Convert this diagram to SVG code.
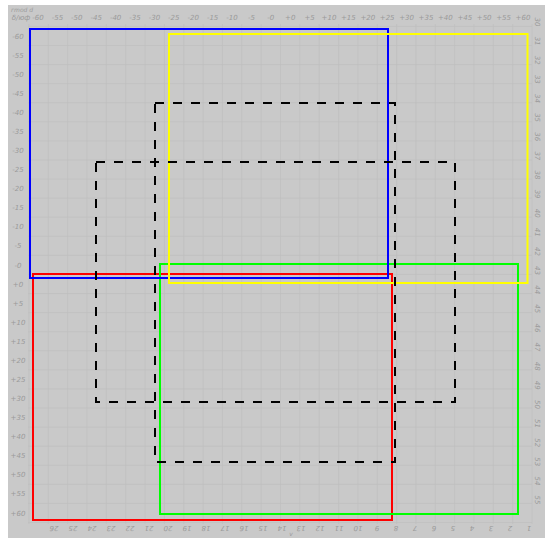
<svg xmlns="http://www.w3.org/2000/svg" width="545" height="538" viewBox="0 0 545 538">
<style>
.lbl{font-family:"DejaVu Sans",sans-serif;font-style:italic;font-size:7px;fill:#9a9a9a;text-anchor:middle}
.grid{stroke:#bfbfbf;stroke-width:0.7;fill:none}
.box{fill:none;stroke-width:2}
.dash{fill:none;stroke:#000;stroke-width:2;stroke-dasharray:9 9}
</style>
<rect x="0" y="0" width="545" height="538" fill="#ffffff"/>
<rect x="8" y="5" width="537" height="533" fill="#c9c9c9"/>
<g id="grid">
<path class="grid" d="M28.95 24V524M48.3 24V524M67.65 24V524M87 24V524M106.35 24V524M125.7 24V524M145.05 24V524M164.4 24V524M183.75 24V524M203.1 24V524M222.45 24V524M241.8 24V524M261.15 24V524M280.5 24V524M299.85 24V524M319.2 24V524M338.55 24V524M357.9 24V524M377.25 24V524M396.6 24V524M415.95 24V524M435.3 24V524M454.65 24V524M474 24V524M493.35 24V524M512.7 24V524M532.05 24V524"/>
<path class="grid" d="M28 26.42H532M28 45.5H532M28 64.58H532M28 83.66H532M28 102.74H532M28 121.82H532M28 140.9H532M28 159.98H532M28 179.06H532M28 198.14H532M28 217.22H532M28 236.3H532M28 255.38H532M28 274.46H532M28 293.54H532M28 312.62H532M28 331.7H532M28 350.78H532M28 369.86H532M28 388.94H532M28 408.02H532M28 427.1H532M28 446.18H532M28 465.26H532M28 484.34H532M28 503.42H532M28 522.5H532"/>
</g>
<g id="labels-top">
<text class="lbl" x="22" y="12" style="font-size:6px">гmod d</text>
<text class="lbl" x="21" y="19.5">δ/юф</text>
<text class="lbl" x="38" y="19.5">-60</text><text class="lbl" x="57.4" y="19.5">-55</text><text class="lbl" x="76.8" y="19.5">-50</text><text class="lbl" x="96.2" y="19.5">-45</text><text class="lbl" x="115.6" y="19.5">-40</text><text class="lbl" x="135" y="19.5">-35</text><text class="lbl" x="154.4" y="19.5">-30</text><text class="lbl" x="173.8" y="19.5">-25</text><text class="lbl" x="193.2" y="19.5">-20</text><text class="lbl" x="212.6" y="19.5">-15</text><text class="lbl" x="232" y="19.5">-10</text><text class="lbl" x="251.4" y="19.5">-5</text><text class="lbl" x="270.8" y="19.5">-0</text><text class="lbl" x="290.2" y="19.5">+0</text><text class="lbl" x="309.6" y="19.5">+5</text><text class="lbl" x="329" y="19.5">+10</text><text class="lbl" x="348.4" y="19.5">+15</text><text class="lbl" x="367.8" y="19.5">+20</text><text class="lbl" x="387.2" y="19.5">+25</text><text class="lbl" x="406.6" y="19.5">+30</text><text class="lbl" x="426" y="19.5">+35</text><text class="lbl" x="445.4" y="19.5">+40</text><text class="lbl" x="464.8" y="19.5">+45</text><text class="lbl" x="484.2" y="19.5">+50</text><text class="lbl" x="503.6" y="19.5">+55</text><text class="lbl" x="523" y="19.5">+60</text>
</g>
<g id="labels-left">
<text class="lbl" x="18" y="38.5">-60</text><text class="lbl" x="18" y="57.6">-55</text><text class="lbl" x="18" y="76.7">-50</text><text class="lbl" x="18" y="95.7">-45</text><text class="lbl" x="18" y="114.8">-40</text><text class="lbl" x="18" y="133.9">-35</text><text class="lbl" x="18" y="153">-30</text><text class="lbl" x="18" y="172.1">-25</text><text class="lbl" x="18" y="191.1">-20</text><text class="lbl" x="18" y="210.2">-15</text><text class="lbl" x="18" y="229.3">-10</text><text class="lbl" x="18" y="248.4">-5</text><text class="lbl" x="18" y="267.5">-0</text><text class="lbl" x="18" y="286.5">+0</text><text class="lbl" x="18" y="305.6">+5</text><text class="lbl" x="18" y="324.7">+10</text><text class="lbl" x="18" y="343.8">+15</text><text class="lbl" x="18" y="362.9">+20</text><text class="lbl" x="18" y="381.9">+25</text><text class="lbl" x="18" y="401">+30</text><text class="lbl" x="18" y="420.1">+35</text><text class="lbl" x="18" y="439.2">+40</text><text class="lbl" x="18" y="458.3">+45</text><text class="lbl" x="18" y="477.3">+50</text><text class="lbl" x="18" y="496.4">+55</text><text class="lbl" x="18" y="515.5">+60</text>
</g>
<g id="labels-right">
<text class="lbl" transform="translate(537,22) rotate(90)" y="2.5">30</text><text class="lbl" transform="translate(537,41.12) rotate(90)" y="2.5">31</text><text class="lbl" transform="translate(537,60.24) rotate(90)" y="2.5">32</text><text class="lbl" transform="translate(537,79.36) rotate(90)" y="2.5">33</text><text class="lbl" transform="translate(537,98.48) rotate(90)" y="2.5">34</text><text class="lbl" transform="translate(537,117.6) rotate(90)" y="2.5">35</text><text class="lbl" transform="translate(537,136.72) rotate(90)" y="2.5">36</text><text class="lbl" transform="translate(537,155.84) rotate(90)" y="2.5">37</text><text class="lbl" transform="translate(537,174.96) rotate(90)" y="2.5">38</text><text class="lbl" transform="translate(537,194.08) rotate(90)" y="2.5">39</text><text class="lbl" transform="translate(537,213.2) rotate(90)" y="2.5">40</text><text class="lbl" transform="translate(537,232.32) rotate(90)" y="2.5">41</text><text class="lbl" transform="translate(537,251.44) rotate(90)" y="2.5">42</text><text class="lbl" transform="translate(537,270.56) rotate(90)" y="2.5">43</text><text class="lbl" transform="translate(537,289.68) rotate(90)" y="2.5">44</text><text class="lbl" transform="translate(537,308.8) rotate(90)" y="2.5">45</text><text class="lbl" transform="translate(537,327.92) rotate(90)" y="2.5">46</text><text class="lbl" transform="translate(537,347.04) rotate(90)" y="2.5">47</text><text class="lbl" transform="translate(537,366.16) rotate(90)" y="2.5">48</text><text class="lbl" transform="translate(537,385.28) rotate(90)" y="2.5">49</text><text class="lbl" transform="translate(537,404.4) rotate(90)" y="2.5">50</text><text class="lbl" transform="translate(537,423.52) rotate(90)" y="2.5">51</text><text class="lbl" transform="translate(537,442.64) rotate(90)" y="2.5">52</text><text class="lbl" transform="translate(537,461.76) rotate(90)" y="2.5">53</text><text class="lbl" transform="translate(537,480.88) rotate(90)" y="2.5">54</text><text class="lbl" transform="translate(537,500) rotate(90)" y="2.5">55</text>
</g>
<g id="labels-bottom">
<text class="lbl" transform="translate(54,528) rotate(180)" y="2.5">26</text><text class="lbl" transform="translate(73,528) rotate(180)" y="2.5">25</text><text class="lbl" transform="translate(92,528) rotate(180)" y="2.5">24</text><text class="lbl" transform="translate(111,528) rotate(180)" y="2.5">23</text><text class="lbl" transform="translate(130,528) rotate(180)" y="2.5">22</text><text class="lbl" transform="translate(149,528) rotate(180)" y="2.5">21</text><text class="lbl" transform="translate(168,528) rotate(180)" y="2.5">20</text><text class="lbl" transform="translate(187,528) rotate(180)" y="2.5">19</text><text class="lbl" transform="translate(206,528) rotate(180)" y="2.5">18</text><text class="lbl" transform="translate(225,528) rotate(180)" y="2.5">17</text><text class="lbl" transform="translate(244,528) rotate(180)" y="2.5">16</text><text class="lbl" transform="translate(263,528) rotate(180)" y="2.5">15</text><text class="lbl" transform="translate(282,528) rotate(180)" y="2.5">14</text><text class="lbl" transform="translate(301,528) rotate(180)" y="2.5">13</text><text class="lbl" transform="translate(320,528) rotate(180)" y="2.5">12</text><text class="lbl" transform="translate(339,528) rotate(180)" y="2.5">11</text><text class="lbl" transform="translate(358,528) rotate(180)" y="2.5">10</text><text class="lbl" transform="translate(377,528) rotate(180)" y="2.5">9</text><text class="lbl" transform="translate(396,528) rotate(180)" y="2.5">8</text><text class="lbl" transform="translate(415,528) rotate(180)" y="2.5">7</text><text class="lbl" transform="translate(434,528) rotate(180)" y="2.5">6</text><text class="lbl" transform="translate(453,528) rotate(180)" y="2.5">5</text><text class="lbl" transform="translate(472,528) rotate(180)" y="2.5">4</text><text class="lbl" transform="translate(491,528) rotate(180)" y="2.5">3</text><text class="lbl" transform="translate(510,528) rotate(180)" y="2.5">2</text><text class="lbl" transform="translate(529,528) rotate(180)" y="2.5">1</text>
<text class="lbl" x="291" y="536" style="font-size:6px">v</text>
</g>
<g id="red-box"><rect class="box" stroke="#ff0000" x="33" y="274" width="359" height="246"/></g>
<g id="green-box"><rect class="box" stroke="#00ff00" x="160" y="264" width="358" height="250"/></g>
<g id="blue-box"><rect class="box" stroke="#0000ff" x="30" y="29" width="358" height="249"/></g>
<g id="yellow-box"><rect class="box" stroke="#ffff00" x="169" y="34" width="358.5" height="249"/></g>
<g id="dashed-tall"><rect class="dash" x="155" y="103" width="240" height="359"/></g>
<g id="dashed-wide"><rect class="dash" x="96" y="162" width="359" height="240"/></g>
</svg>
